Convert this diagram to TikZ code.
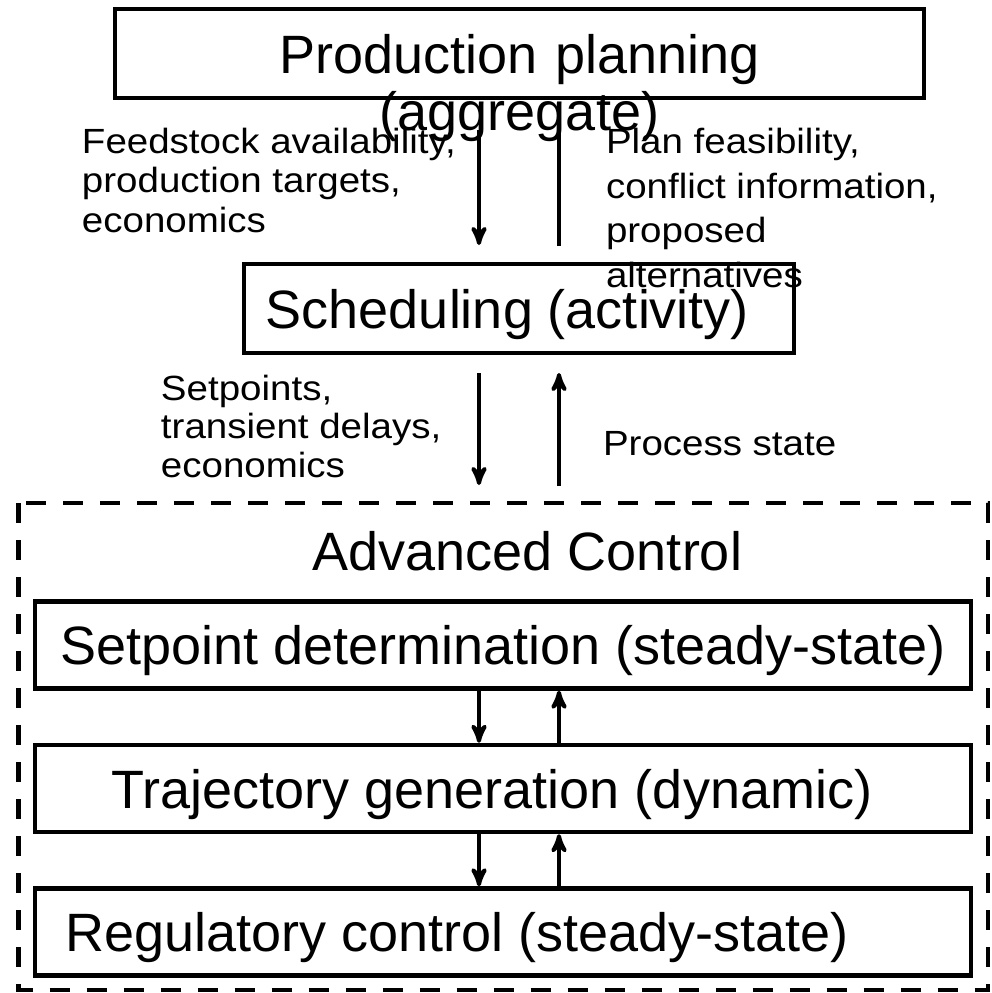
\documentclass[tikz,border=0pt]{standalone}
\usepackage{fontspec}
\setmainfont{Liberation Sans}
\newfontfamily\lblfont{Liberation Sans}[FakeStretch=1.1]
\usetikzlibrary{arrows,positioning}

\begin{document}
\begin{tikzpicture}[x=0.5pt,y=-0.5pt,->,>=stealth',line width=2pt,
                    node distance=71.75pt]
  \tikzstyle{level}=[draw,line width=2.2pt,inner sep=0pt,text height=19.6pt,text depth=0pt,
                     minimum width=468pt,minimum height=43.5pt,font=\fontsize{27}{28.5}\selectfont]
  \tikzstyle{lbl}=[anchor=base west,align=left,inner sep=0pt,
                   font=\lblfont\fontsize{17.5}{19.75}\selectfont]

  \useasboundingbox (0,0) rectangle (992,993);
  \draw[-,line width=2.2pt,dash pattern=on 10pt off 8.5pt] (18.5,503) rectangle (988,990);

  \node[level,text width=404.5pt,align=center,minimum width=404.5pt,minimum height=44.5pt]
        (plan) at (519.5,53.5) {Production planning\\(aggregate)};            % top level
  \node[level,minimum width=275pt,minimum height=44.5pt] (sched) at (519,308.5)
        {Scheduling (activity)\hspace*{11.5pt}};
  \node[font=\fontsize{27}{28.5}\selectfont,anchor=base,inner sep=0pt] (adv) at (527.5,570)
        {Advanced Control};
  \node[level] (setp) at (503,645)      {Setpoint determination (steady-state)};
  \node[level] (traj) [below of=setp]   {Trajectory generation (dynamic)\hspace*{11pt}};
  \node[level] (reg)  [below of=traj]   {Regulatory control (steady-state)\hspace*{46pt}};

  % labels (placed at the baseline of their last line)
  \node[lbl] (feed)  at (80,232)  {Feedstock availability,\\production targets,\\economics};
  \node[lbl,font=\lblfont\fontsize{17.5}{22.25}\selectfont] (feas) at (604,287)
        {Plan feasibility,\\conflict information,\\proposed\\alternatives};
  \node[lbl,font=\lblfont\fontsize{17.5}{19.25}\selectfont] (setpt) at (159,477)
        {Setpoints,\\transient delays,\\economics};
  \node[lbl] (state) at (601,455) {Process state};

  \coordinate (dn) at (479,0);
  \coordinate (up) at (559,0);
  \coordinate (a1) at (479,130);  \coordinate (a2) at (479,245);
  \coordinate (b1) at (559,246);  \coordinate (b2) at (559,128);
  \coordinate (c1) at (479,373);  \coordinate (c2) at (479,485);
  \coordinate (d1) at (559,486);  \coordinate (d2) at (559,373);

  \path (a1) edge      (a2)
        (b1) edge[-]   (b2)
        (c1) edge      (c2)
        (d1) edge      (d2)
        (setp.south -| dn) edge (traj.north -| dn)
        (traj.north -| up) edge (setp.south -| up)
        (traj.south -| dn) edge (reg.north -| dn)
        (reg.north -| up)  edge (traj.south -| up);
\end{tikzpicture}
\end{document}
